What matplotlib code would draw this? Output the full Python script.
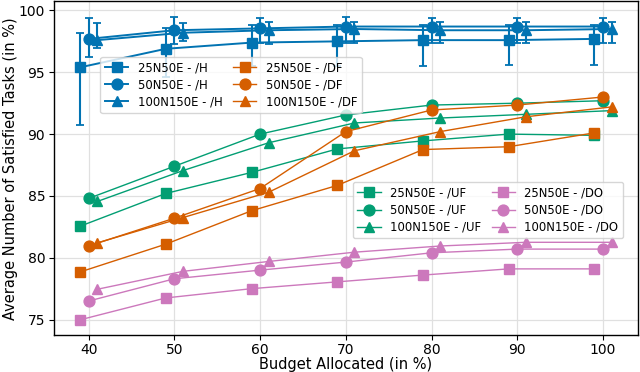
import matplotlib
matplotlib.use("Agg")
import matplotlib.pyplot as plt
import numpy as np

budget = [40, 50, 60, 70, 80, 90, 100]
offsets = {"25N50E": -1, "50N50E": 0, "100N150E": 1}
configs = ["25N50E", "50N50E", "100N150E"]
markers = {"25N50E": "s", "50N50E": "o", "100N150E": "^"}

# /H series with error bars (mean, lower bound, upper bound)
h_25 = [95.4, 96.9, 97.4, 97.5, 97.6, 97.6, 97.7]
h_25_lo = [90.7, 94.6, 95.5, 95.5, 95.5, 95.6, 95.6]
h_25_hi = [98.15, 98.6, 98.8, 98.8, 98.8, 98.8, 98.8]
h_50 = [97.7, 98.4, 98.55, 98.7, 98.7, 98.7, 98.7]
h_50_lo = [96.2, 97.3, 97.35, 97.4, 97.35, 97.35, 97.35]
h_50_hi = [99.4, 99.5, 99.4, 99.5, 99.4, 99.4, 99.4]
h_100 = [97.6, 98.2, 98.4, 98.5, 98.4, 98.4, 98.5]
h_100_lo = [97.0, 97.5, 97.3, 97.4, 97.35, 97.35, 97.4]
h_100_hi = [99.0, 99.0, 99.1, 99.1, 99.1, 99.1, 99.1]

# /DF series
df_25 = [78.85, 81.1, 83.8, 85.85, 88.75, 88.98, 90.1]
df_50 = [80.95, 83.2, 85.6, 90.2, 91.95, 92.35, 93.0]
df_100 = [81.2, 83.25, 85.3, 88.65, 90.2, 91.4, 92.2]

# /UF series
uf_25 = [82.55, 85.2, 86.9, 88.8, 89.45, 90.0, 89.9]
uf_50 = [84.8, 87.4, 90.0, 91.55, 92.35, 92.5, 92.7]
uf_100 = [84.55, 87.05, 89.3, 90.9, 91.3, 91.6, 91.9]

# /DO series
do_25 = [74.98, 76.75, 77.5, 78.05, 78.6, 79.1, 79.1]
do_50 = [76.5, 78.3, 79.0, 79.65, 80.4, 80.7, 80.7]
do_100 = [77.45, 78.9, 79.7, 80.45, 80.95, 81.25, 81.25]

c_h = "#0173b2"
c_df = "#d55e00"
c_uf = "#029e73"
c_do = "#cc78bc"

fig = plt.figure(figsize=(6.4, 3.72), dpi=100)
ax = fig.add_axes([0.0836, 0.0995, 0.9134, 0.8965])

ms = 7.8
h_handles = []
h_data = {"25N50E": (h_25, h_25_lo, h_25_hi),
          "50N50E": (h_50, h_50_lo, h_50_hi),
          "100N150E": (h_100, h_100_lo, h_100_hi)}
for cfg in configs:
    y, lo, hi = h_data[cfg]
    x = np.array(budget) + offsets[cfg]
    y = np.array(y)
    yerr = [y - np.array(lo), np.array(hi) - y]
    ax.errorbar(x, y, yerr=yerr, fmt="none", ecolor=c_h, elinewidth=1.5,
                capsize=3.0, capthick=1.3, zorder=3)
    ln, = ax.plot(x, y, color=c_h, marker=markers[cfg], ms=ms, lw=1.4,
                  label=f"{cfg} - /H", zorder=4)
    h_handles.append(ln)

def plot_group(data, color, suffix):
    hs = []
    for cfg, y in zip(configs, data):
        x = np.array(budget) + offsets[cfg]
        ln, = ax.plot(x, y, color=color, marker=markers[cfg], ms=ms, lw=1.0,
                      label=f"{cfg} - {suffix}", zorder=4)
        hs.append(ln)
    return hs

uf_handles = plot_group([uf_25, uf_50, uf_100], c_uf, "/UF")
df_handles = plot_group([df_25, df_50, df_100], c_df, "/DF")
do_handles = plot_group([do_25, do_50, do_100], c_do, "/DO")

ax.grid(True, color="#e0e0e0", lw=0.9)
ax.set_axisbelow(True)
ax.set_xticks([40, 50, 60, 70, 80, 90, 100])
ax.set_yticks([75, 80, 85, 90, 95, 100])
ax.tick_params(labelsize=10, pad=2.5)
for s in ax.spines.values():
    s.set_color("black")
    s.set_linewidth(1.0)

ax.set_xlabel("Budget Allocated (in %)", fontsize=10.5, labelpad=0)
ax.set_ylabel("Average Number of Satisfied Tasks (in %)", fontsize=10.5, labelpad=0.5)

leg1 = ax.legend(handles=h_handles + df_handles, ncol=2, loc="upper left",
                 bbox_to_anchor=(0.08, 0.835), borderaxespad=0, fontsize=8.4,
                 handlelength=2.0, labelspacing=0.35, columnspacing=0.9)
ax.add_artist(leg1)
leg2 = ax.legend(handles=uf_handles + do_handles, ncol=2, loc="upper left",
                 bbox_to_anchor=(0.512, 0.459), borderaxespad=0, fontsize=8.4,
                 handlelength=2.0, labelspacing=0.35, columnspacing=0.9)

fig.savefig("out.png", dpi=100)
